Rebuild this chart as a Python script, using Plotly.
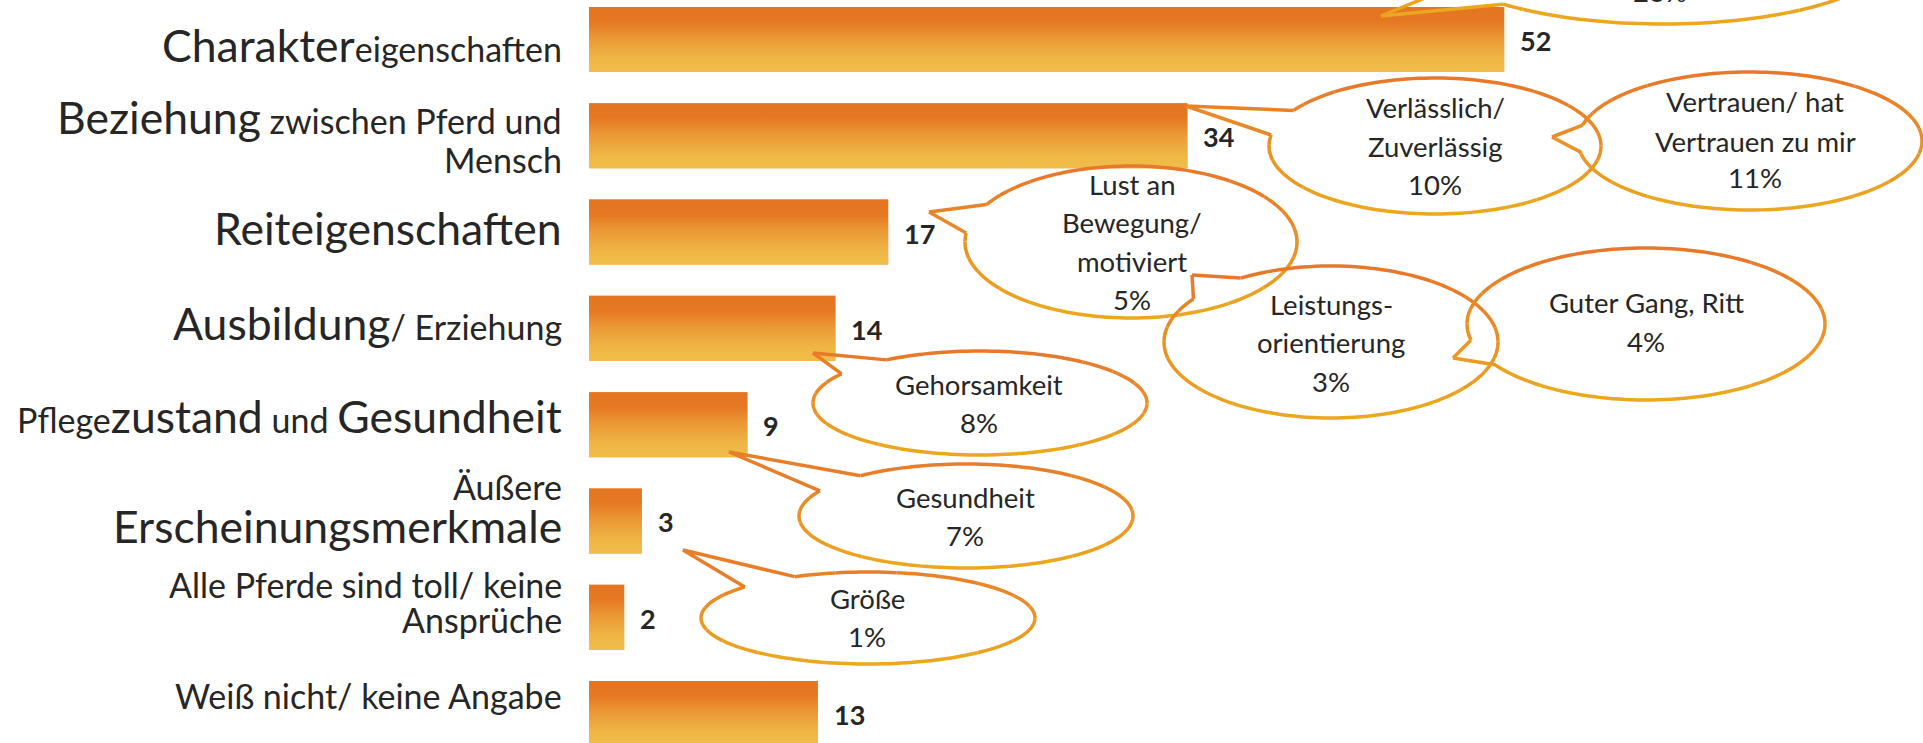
import math
import plotly.graph_objects as go
from plotly.colors import sample_colorscale

# ---------------- data ----------------
categories = [
    "Charaktereigenschaften",
    "Beziehung zwischen Pferd und Mensch",
    "Reiteigenschaften",
    "Ausbildung/ Erziehung",
    "Pflegezustand und Gesundheit",
    "Äußere Erscheinungsmerkmale",
    "Alle Pferde sind toll/ keine Ansprüche",
    "Weiß nicht/ keine Angabe",
]
values = [52, 34, 17, 14, 9, 3, 2, 13]

# label rendering: list of lines, each line list of (text, is_big)
label_parts = [
    [[("Charakter", True), ("eigenschaften", False)]],
    [[("Beziehung", True), (" zwischen Pferd und", False)], [("Mensch", False)]],
    [[("Reiteigenschaften", True)]],
    [[("Ausbildung", True), ("/ Erziehung", False)]],
    [[("Pflege", False), ("zustand", True), (" und ", False), ("Gesundheit", True)]],
    [[("Äußere", False)], [("Erscheinungsmerkmale", True)]],
    [[("Alle Pferde sind toll/ keine", False)], [("Ansprüche", False)]],
    [[("Weiß nicht/ keine Angabe", False)]],
]

# callout bubbles: sub-answers with shares
sub_labels = [
    [],
    ["Verlässlich/", "Zuverlässig"],
    ["Vertrauen/ hat", "Vertrauen zu mir"],
    ["Lust an", "Bewegung/", "motiviert"],
    ["Leistungs-", "orientierung"],
    ["Guter Gang, Ritt"],
    ["Gehorsamkeit"],
    ["Gesundheit"],
    ["Größe"],
]
sub_pcts = [23, 10, 11, 5, 3, 4, 8, 7, 1]

# ---------------- layout constants ----------------
W, H = 1923, 743
ML = 589
PW = W - ML
BIG, SMALL = 44.5, 34
BUB_FONT = 27.5
TXT = "#262626"
FONT = "Lato"

# bubble geometry in page pixels: centre, radii, tail tip, two tail base points
bubble_geom = [
    dict(c=(1663, -46), r=(229, 70), tip=(1381, 16), b1=(1507, 3), b2=(1455, -15), tx=1660, base=[2]),
    dict(c=(1435, 146), r=(166, 68), tip=(1186, 106), b1=(1292, 110), b2=(1271, 135), tx=1435, base=[118, 157, 195]),
    dict(c=(1750, 141), r=(172, 69), tip=(1552, 137), b1=(1582, 125), b2=(1578, 152), tx=1755, base=[112, 152, 188]),
    dict(c=(1131, 242), r=(166, 76), tip=(929, 212), b1=(988, 205), b2=(965, 233), tx=1132, base=[195, 233, 272, 310]),
    dict(c=(1331, 342), r=(167, 76), tip=(1192, 275), b1=(1242, 279), b2=(1197, 300), tx=1331, base=[315, 353, 392]),
    dict(c=(1646, 324), r=(179, 76), tip=(1453, 358), b1=(1471, 340), b2=(1494, 365), tx=1646, base=[313, 352]),
    dict(c=(980, 403), r=(167, 52), tip=(813, 353), b1=(887, 360), b2=(842, 374), tx=979, base=[395, 433]),
    dict(c=(966, 516), r=(167, 52), tip=(729, 452), b1=(864, 477), b2=(821, 491), tx=965, base=[508, 546]),
    dict(c=(868, 618), r=(167, 46), tip=(683, 550), b1=(797, 578), b2=(745, 587), tx=867, base=[609, 647]),
]

label_baselines = [[62], [134, 173], [245], [340], [433], [500, 543], [598, 633], [709]]


def px(x):
    return (x - ML) / PW


def py(y):
    return 1 - y / H


# bottom (yellow) -> top (orange); the fill gradient runs from the lowest y value
bar_scale = [[0, "#F1BD49"], [0.2, "#EFB746"], [0.5, "#EB9A37"], [0.78, "#E67823"], [1, "#E57520"]]
stroke_scale = [[0, "#E8772A"], [0.5, "#E98F26"], [1, "#EBAA1E"]]

fig = go.Figure()

BW = 0.675
ypos = list(range(len(values)))
# base bar trace (mid colour) underneath the gradient
fig.add_trace(go.Bar(
    x=values, y=ypos, orientation="h", width=BW,
    marker=dict(color="#EB9A37", line=dict(width=0)),
    hoverinfo="x", showlegend=False,
))
# gradient fill on top of each bar, from the same values
for i, v in enumerate(values):
    fig.add_trace(go.Scatter(
        x=[0, v, v, 0, 0], y=[i - BW / 2, i - BW / 2, i + BW / 2, i + BW / 2, i - BW / 2],
        mode="lines", line=dict(width=0, color="rgba(0,0,0,0)"), fill="toself",
        fillgradient=dict(type="vertical", colorscale=bar_scale),
        hoverinfo="skip", showlegend=False,
    ))

annotations = []

# value labels
for i, v in enumerate(values):
    annotations.append(dict(
        x=v, y=i, xref="x", yref="y", text=f"<b>{v}</b>", showarrow=False,
        xanchor="left", yanchor="middle", xshift=14, yshift=-1,
        font=dict(family=FONT, size=27, color=TXT),
    ))

# category labels
for i, lines in enumerate(label_parts):
    for j, parts in enumerate(lines):
        html = ""
        has_big = False
        for t, big in parts:
            if big:
                has_big = True
                html += f'<span style="font-size:{BIG}px">{t}</span>'
            else:
                html += t
        s = BIG if has_big else SMALL
        b = label_baselines[i][j]
        cy = b - 0.387 * s
        annotations.append(dict(
            x=0, y=py(cy), xref="paper", yref="paper", text=html, showarrow=False,
            xanchor="right", yanchor="middle", xshift=-25,
            font=dict(family=FONT, size=SMALL, color=TXT),
        ))

# bubbles
shapes = []
for bi, g in enumerate(bubble_geom):
    cx, cy = g["c"]
    rx, ry = g["r"]
    t1 = math.atan2((g["b1"][1] - cy) / ry, (g["b1"][0] - cx) / rx)
    t2 = math.atan2((g["b2"][1] - cy) / ry, (g["b2"][0] - cx) / rx)
    d12 = (t2 - t1) % (2 * math.pi)
    if d12 < math.pi:
        start, span = t2, 2 * math.pi - d12
    else:
        start, span = t1, d12
    n = 160
    pts = [(cx + rx * math.cos(start + span * k / n), cy + ry * math.sin(start + span * k / n)) for k in range(n + 1)]
    pts.append(g["tip"])
    pts.append(pts[0])
    ys = [p[1] for p in pts]
    ytop, ybot = min(ys), max(ys)
    nq = 10

    def q(y):
        return min(nq - 1, int((y - ytop) / (ybot - ytop + 1e-9) * nq))

    groups = []
    cur = [pts[0]]
    cur_q = q((pts[0][1] + pts[1][1]) / 2)
    for k in range(1, len(pts)):
        seg_q = q((pts[k - 1][1] + pts[k][1]) / 2)
        if seg_q != cur_q:
            groups.append((cur_q, cur))
            cur = [pts[k - 1]]
            cur_q = seg_q
        cur.append(pts[k])
    groups.append((cur_q, cur))
    for gq, gp in groups:
        col = sample_colorscale(stroke_scale, [(gq + 0.5) / nq])[0]
        path = "M " + " L ".join(f"{px(x):.5f},{py(y):.5f}" for x, y in gp)
        shapes.append(dict(type="path", path=path, xref="paper", yref="paper",
                           line=dict(color=col, width=3.5), fillcolor="rgba(0,0,0,0)", layer="above"))
    lines = sub_labels[bi] + [f"{sub_pcts[bi]}%"]
    bases = g["base"]
    lines = lines[-len(bases):]
    for t, b in zip(lines, bases):
        annotations.append(dict(
            x=px(g["tx"]), y=py(b - 0.387 * BUB_FONT), xref="paper", yref="paper",
            text=t, showarrow=False, xanchor="center", yanchor="middle",
            font=dict(family=FONT, size=BUB_FONT, color=TXT),
        ))

fig.update_layout(
    width=W, height=H,
    margin=dict(l=ML, r=0, t=0, b=0, pad=0),
    paper_bgcolor="white", plot_bgcolor="white",
    barmode="overlay",
    showlegend=False,
    xaxis=dict(range=[0, PW / 17.6], visible=False, fixedrange=True),
    yaxis=dict(range=[7.306, -0.41], visible=False, fixedrange=True),
    annotations=annotations,
    shapes=shapes,
    font=dict(family=FONT, color=TXT),
)

fig.write_html("out.html", config={"displayModeBar": False},
               post_script="document.body.style.margin='0px';document.body.style.overflow='hidden';")
